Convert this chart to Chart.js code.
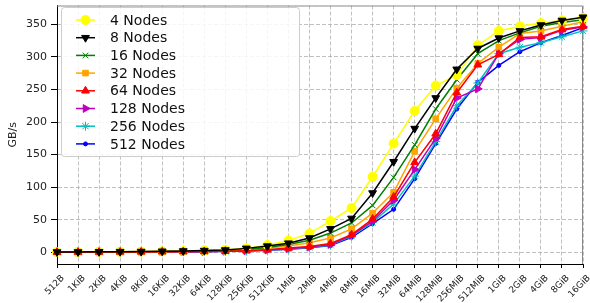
<!DOCTYPE html>
<html>
<head>
<meta charset="utf-8">
<script src="https://cdn.jsdelivr.net/npm/chart.js@4.4.1/dist/chart.umd.min.js"></script>
<style>
  html, body { margin: 0; padding: 0; background: #fff; }
  #wrap { width: 590px; height: 303px; }
</style>
</head>
<body>
<div id="wrap"><canvas id="grafico"></canvas></div>
<script>
// Tamanhos de mensagem (eixo x) e ticks do eixo y
const sizes = ['512B', '1KiB', '2KiB', '4KiB', '8KiB', '16KiB', '32KiB', '64KiB', '128KiB', '256KiB', '512KiB',
    '1MiB', '2MiB', '4MiB', '8MiB', '16MiB', '32MiB', '64MiB', '128MiB', '256MiB', '512MiB',
    '1GiB', '2GiB', '4GiB', '8GiB', '16GiB'];
const yTicks = [0, 50, 100, 150, 200, 250, 300, 350];

// Largura de banda (GB/s) por numero de nos
const nodes4   = [0.4, 0.5, 0.7, 0.9, 1.1, 1.5, 2.0, 2.8, 3.8, 6.0, 11, 18, 29, 48, 68, 116, 167, 217, 256, 272, 318, 340, 347, 352, 356, 360];
const nodes8   = [0.4, 0.5, 0.7, 0.9, 1.1, 1.5, 2.0, 2.6, 3.5, 6.0, 9.5, 14, 22, 36, 52, 91, 139, 190, 237, 281, 313, 329, 340, 349, 356, 361];
const nodes16  = [0.3, 0.4, 0.6, 0.8, 1.0, 1.3, 1.7, 2.2, 3.0, 4.8, 7.5, 12, 18.5, 29.5, 45, 72, 115, 165, 220, 265, 305, 325, 337, 347, 353, 357];
const nodes32  = [0.3, 0.4, 0.5, 0.7, 0.9, 1.1, 1.5, 2.0, 2.6, 4.0, 6.0, 9.5, 14.5, 22, 36, 60, 92, 155, 205, 252, 290, 315, 336, 340, 347, 354];
const nodes64  = [0.2, 0.3, 0.4, 0.5, 0.6, 0.8, 1.0, 1.3, 1.7, 2.5, 3.8, 6.5, 9, 13.5, 27, 51, 85, 138, 182, 245, 288, 304, 330, 331, 342, 347];
const nodes128 = [0.2, 0.3, 0.4, 0.5, 0.6, 0.7, 0.9, 1.2, 1.6, 2.3, 3.5, 5.5, 8, 12, 26, 48, 80, 127, 175, 237, 251, 305, 327, 330, 341, 346];
const nodes256 = [0.2, 0.3, 0.4, 0.5, 0.6, 0.7, 0.9, 1.1, 1.5, 2.2, 3.3, 5, 7.5, 11, 25, 46, 74, 117, 170, 225, 260, 305, 315, 322, 331, 340];
const nodes512 = [0.2, 0.2, 0.3, 0.4, 0.5, 0.6, 0.8, 1.0, 1.4, 2.0, 3.0, 4.5, 7, 10.5, 23, 44, 66, 113, 167, 220, 261, 287, 308, 322, 333, 345];

const seriesNames = ['4 Nodes', '8 Nodes', '16 Nodes', '32 Nodes', '64 Nodes', '128 Nodes', '256 Nodes', '512 Nodes'];
const seriesData = [nodes4, nodes8, nodes16, nodes32, nodes64, nodes128, nodes256, nodes512];

// Estilos no jeito do matplotlib (cor + marcador)
const estilos = [
    { color: '#ffff00', style: 'circle', rot: 0, r: 4.5, order: 2 },
    { color: '#000000', style: 'triangle', rot: 180, r: 4.5, order: 0 },
    { color: '#008000', style: 'crossRot', rot: 0, r: 4, order: 2 },
    { color: '#ffa500', style: 'rect', rot: 0, r: 4, order: 2 },
    { color: '#ff0000', style: 'triangle', rot: 0, r: 4.5, order: 1 },
    { color: '#bf00bf', style: 'triangle', rot: 90, r: 4.5, order: 2 },
    { color: '#00bfbf', style: 'star', rot: 0, r: 4.5, order: 2 },
    { color: '#0000ff', style: 'circle', rot: 0, r: 2, order: 2 }
];

const FONTE = '"DejaVu Sans", sans-serif';

const datasets = seriesData.map((d, i) => ({
    label: seriesNames[i],
    data: d,
    borderColor: estilos[i].color,
    backgroundColor: estilos[i].color,
    pointBackgroundColor: estilos[i].color,
    pointBorderColor: estilos[i].color,
    pointStyle: estilos[i].style,
    pointRotation: estilos[i].rot,
    pointRadius: estilos[i].r,
    pointBorderWidth: 1,
    borderWidth: 1.5,
    tension: 0,
    fill: false,
    order: estilos[i].order
}));

// Legenda desenhada dentro da area do grafico (caixa branca com borda cinza)
const legendaBox = {
    id: 'legendaBox',
    afterDraw(chart) {
        const ctx = chart.ctx;
        ctx.save();
        ctx.fillStyle = 'rgba(255,255,255,0.85)';
        ctx.strokeStyle = '#cccccc';
        ctx.lineWidth = 1;
        ctx.beginPath();
        ctx.roundRect(61.5, 7.5, 238, 149, 3);
        ctx.fill();
        ctx.stroke();
        chart.data.datasets.forEach((ds, i) => {
            const y = 20 + i * 17.7;
            ctx.strokeStyle = ds.borderColor;
            ctx.lineWidth = ds.borderWidth;
            ctx.beginPath();
            ctx.moveTo(76, y);
            ctx.lineTo(95, y);
            ctx.stroke();
            ctx.fillStyle = ds.pointBackgroundColor;
            ctx.strokeStyle = ds.pointBorderColor;
            ctx.lineWidth = 1;
            Chart.helpers.drawPoint(ctx, {
                pointStyle: ds.pointStyle, rotation: ds.pointRotation,
                radius: ds.pointRadius, borderWidth: 1
            }, 85.5, y);
            ctx.fillStyle = '#111';
            ctx.font = '14px ' + FONTE;
            ctx.textBaseline = 'middle';
            ctx.fillText(ds.label, 110, y + 1);
        });
        ctx.restore();
    }
};

// Moldura de cima e da direita
const moldura = {
    id: 'moldura',
    beforeDatasetsDraw(chart) {
        const a = chart.chartArea, ctx = chart.ctx;
        ctx.save();
        ctx.strokeStyle = '#888888';
        ctx.lineWidth = 1;
        ctx.beginPath();
        ctx.moveTo(a.left, a.top + 0.5);
        ctx.lineTo(a.right - 0.5, a.top + 0.5);
        ctx.lineTo(a.right - 0.5, a.bottom);
        ctx.stroke();
        ctx.restore();
    }
};

new Chart(document.getElementById('grafico').getContext('2d'), {
    type: 'line',
    data: { labels: sizes, datasets: datasets },
    plugins: [moldura, legendaBox],
    options: {
        responsive: true,
        maintainAspectRatio: false,
        animation: false,
        layout: { padding: { left: 7, top: 3, right: 7, bottom: 0 } },
        plugins: {
            legend: { display: false },
            tooltip: { enabled: false }
        },
        scales: {
            x: {
                afterFit: (s) => { s.height = 39; s.paddingLeft = 0; s.paddingRight = 0; },
                grid: { color: '#b0b0b0', lineWidth: 0.8, tickColor: '#000', tickLength: 4, tickWidth: 1 },
                border: { color: '#000', width: 1, dash: [4, 2] },
                ticks: {
                    autoSkip: false, maxRotation: 45, minRotation: 45, padding: 5, labelOffset: 6,
                    color: '#222', font: { family: FONTE, size: 9 }
                }
            },
            y: {
                min: -18,
                max: 379,
                afterBuildTicks: (s) => { s.ticks = yTicks.map(v => ({ value: v })); },
                afterFit: (s) => { s.width = 50; s.paddingTop = 0; s.paddingBottom = 0; },
                grid: { color: '#b0b0b0', lineWidth: 0.8, tickColor: '#000', tickLength: 6, tickWidth: 1 },
                border: { color: '#000', width: 1, dash: [4, 2] },
                ticks: { padding: 4, color: '#222', font: { family: FONTE, size: 11 } },
                title: { display: true, text: 'GB/s', color: '#222', font: { family: FONTE, size: 11 }, padding: { top: 0, bottom: 4 } }
            }
        }
    }
});
</script>
</body>
</html>
